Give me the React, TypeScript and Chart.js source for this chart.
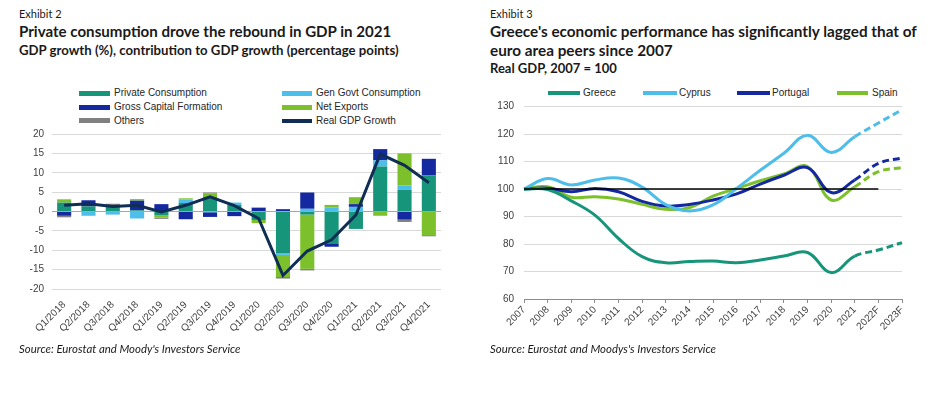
import React, { useEffect, useRef } from "react";
import { Chart, registerables } from "chart.js";

Chart.register(...registerables);

// ---------- Exhibit 2 data ----------
const quarters = [
  "Q1/2018", "Q2/2018", "Q3/2018", "Q4/2018",
  "Q1/2019", "Q2/2019", "Q3/2019", "Q4/2019",
  "Q1/2020", "Q2/2020", "Q3/2020", "Q4/2020",
  "Q1/2021", "Q2/2021", "Q3/2021", "Q4/2021",
];
const privateConsumption = [2.3, 1.3, 1.5, 0.3, -1.0, 2.2, 3.7, 1.7, -2.2, -10.8, -0.8, -8.2, -4.5, 11.6, 5.6, 9.3];
const genGovtConsumption = [0, -1.1, -0.8, -1.8, 0, 0.9, -0.2, 0.6, 0, -0.4, 0.7, 1.1, 1.2, 1.6, 1.1, 0];
const grossCapitalFormation = [-1.1, 1.6, 0, 2.5, 1.9, -2.0, -1.2, -1.2, 1.0, 0.6, 4.2, -0.9, 0.7, 2.9, -2.1, 4.3];
const netExports = [0.85, 0, 0, 0.4, -0.6, 0.3, 0.9, 0, -0.8, -5.7, -14.0, 0.6, 1.8, -1.1, 8.3, -6.1];
const others = [-0.4, 0, 0.5, 0, -0.3, 0, 0.3, 0, 0, -0.4, -0.4, 0, 0, 0, -0.6, -0.3];
const realGdpGrowth = [1.6, 2.0, 1.3, 1.6, -0.1, 1.6, 3.8, 1.5, -1.8, -16.5, -10.2, -7.3, -0.9, 14.8, 11.9, 7.4];
const leftTicks = [-20, -15, -10, -5, 0, 5, 10, 15, 20];

// ---------- Exhibit 3 data ----------
const years = [
  "2007", "2008", "2009", "2010", "2011", "2012", "2013", "2014", "2015",
  "2016", "2017", "2018", "2019", "2020", "2021", "2022F", "2023F",
];
const greece = [100, 99.8, 95.7, 90.5, 82.0, 75.4, 73.2, 73.6, 73.8, 73.2, 74.2, 75.6, 76.9, 69.6, 75.6, 77.8, 80.5];
const cyprus = [100, 103.8, 101.5, 103.3, 104.0, 100.7, 94.3, 92.0, 94.2, 100.2, 106.8, 113.0, 119.5, 113.3, 119.0, 124.0, 128.8];
const portugal = [100, 100.3, 99.0, 100.2, 99.0, 95.5, 93.8, 94.4, 96.0, 98.2, 101.8, 105.0, 107.8, 98.7, 103.3, 109.3, 111.3];
const spain = [100, 100.8, 97.0, 97.2, 96.4, 94.4, 92.6, 93.2, 97.4, 100.2, 103.0, 105.5, 108.2, 96.0, 100.8, 106.3, 107.8];
const baseline = [100, 100, 100, 100, 100, 100, 100, 100, 100, 100, 100, 100, 100, 100, 100, 100, null];
const firstForecastSegment = 14; // segments from 2021 onward are dashed

const C = {
  teal: "#16957a",
  lightBlue: "#4dbde9",
  darkBlue: "#1428a0",
  green: "#7cc12b",
  grey: "#808080",
  navy: "#0f2d55",
};

const TEXT = "#262626";
const TICK = "#404040";
const GRID = "#d9d9d9";
const CHART_FONT = "'Liberation Sans', Arial, sans-serif";
const TITLE_FONT = "Lato, 'Open Sans', sans-serif";

function Swatch({ x, y, w, h, color }: { x: number; y: number; w: number; h: number; color: string }) {
  return <div style={{ position: "absolute", left: x, top: y - h / 2, width: w, height: h, background: color }} />;
}

function Label({ x, y, text, size = 10 }: { x: number; y: number; text: string; size?: number }) {
  return (
    <div
      style={{
        position: "absolute",
        left: x,
        top: y - 7,
        height: 14,
        lineHeight: "14px",
        fontSize: size,
        fontFamily: CHART_FONT,
        color: TEXT,
        whiteSpace: "nowrap",
      }}
    >
      {text}
    </div>
  );
}

function TextLine({ x, y, text, size, weight = 400, italic = false }: { x: number; y: number; text: string; size: number; weight?: number; italic?: boolean }) {
  const lh = Math.round(size * 1.3);
  return (
    <div
      style={{
        position: "absolute",
        left: x,
        top: y - lh / 2,
        height: lh,
        lineHeight: lh + "px",
        fontSize: size,
        fontWeight: weight,
        fontStyle: italic ? "italic" : "normal",
        fontFamily: TITLE_FONT,
        color: "#1a1a1a",
        whiteSpace: "nowrap",
      }}
    >
      {text}
    </div>
  );
}

export default function App() {
  const leftRef = useRef<HTMLCanvasElement>(null);
  const rightRef = useRef<HTMLCanvasElement>(null);

  useEffect(() => {
    Chart.defaults.font.family = CHART_FONT;
    Chart.defaults.font.size = 10;
    Chart.defaults.color = TICK;

    const barCommon = { type: "bar" as const, stack: "contrib", order: 1, borderWidth: 0, barPercentage: 0.58, categoryPercentage: 1 };

    const left = new Chart(leftRef.current!, {
      type: "bar",
      data: {
        labels: quarters,
        datasets: [
          { ...barCommon, label: "Private Consumption", data: privateConsumption, backgroundColor: C.teal },
          { ...barCommon, label: "Gen Govt Consumption", data: genGovtConsumption, backgroundColor: C.lightBlue },
          { ...barCommon, label: "Gross Capital Formation", data: grossCapitalFormation, backgroundColor: C.darkBlue },
          { ...barCommon, label: "Net Exports", data: netExports, backgroundColor: C.green },
          { ...barCommon, label: "Others", data: others, backgroundColor: C.grey },
          {
            type: "line",
            label: "Real GDP Growth",
            data: realGdpGrowth,
            stack: "gdp",
            order: 0,
            borderColor: C.navy,
            borderWidth: 3,
            pointRadius: 0,
            tension: 0,
            fill: false,
          } as any,
        ],
      },
      options: {
        responsive: false,
        animation: false,
        layout: { padding: { top: 11, right: 19, left: 0, bottom: 0 } },
        plugins: { legend: { display: false }, tooltip: { enabled: false } },
        scales: {
          x: {
            stacked: true,
            grid: { display: false },
            border: { display: false },
            ticks: { autoSkip: false, maxRotation: 45, minRotation: 45, padding: 2, color: TICK },
            afterFit: (s: any) => { s.height = 61; },
          },
          y: {
            stacked: true,
            min: leftTicks[0],
            max: leftTicks[leftTicks.length - 1],
            grid: {
              drawTicks: false,
              color: (ctx: any) => (ctx.tick && ctx.tick.value === 0 ? "#a6a6a6" : GRID),
            },
            border: { display: false },
            ticks: { stepSize: 5, padding: 8, color: TICK },
            afterFit: (s: any) => { s.width = 52; },
          },
        },
      },
    });

    const dashed = (ctx: any) => (ctx.p0DataIndex >= firstForecastSegment ? [7, 4] : undefined);
    const lineCommon = { borderWidth: 3, pointRadius: 0, tension: 0.4, fill: false, order: 1, segment: { borderDash: dashed } };

    const right = new Chart(rightRef.current!, {
      type: "line",
      data: {
        labels: years,
        datasets: [
          { ...lineCommon, label: "Greece", data: greece, borderColor: C.teal },
          { ...lineCommon, label: "Cyprus", data: cyprus, borderColor: C.lightBlue },
          { ...lineCommon, label: "Portugal", data: portugal, borderColor: C.darkBlue },
          { ...lineCommon, label: "Spain", data: spain, borderColor: C.green },
          {
            label: "2007 = 100",
            data: baseline,
            borderColor: "#000000",
            borderWidth: 1.5,
            pointRadius: 0,
            tension: 0,
            fill: false,
            order: 0,
          } as any,
        ],
      },
      options: {
        responsive: false,
        animation: false,
        layout: { padding: { top: 26.5, right: 28, left: 0, bottom: 0 } },
        plugins: { legend: { display: false }, tooltip: { enabled: false } },
        scales: {
          x: {
            grid: { drawOnChartArea: false, drawTicks: true, tickLength: 4, color: "#8c8c8c" },
            border: { display: true, color: "#8c8c8c" },
            ticks: { autoSkip: false, maxRotation: 45, minRotation: 45, padding: 1, color: TICK },
            afterFit: (s: any) => { s.height = 51; },
          },
          y: {
            min: 60,
            max: 130,
            grid: { drawTicks: false, color: GRID },
            border: { display: false },
            ticks: { stepSize: 10, padding: 10, color: TICK },
            afterFit: (s: any) => { s.width = 54; },
          },
        },
      },
    });

    return () => {
      left.destroy();
      right.destroy();
    };
  }, []);

  return (
    <div
      style={{
        position: "absolute",
        left: 0,
        top: 0,
        width: 930,
        height: 398,
        background: "#ffffff",
        overflow: "hidden",
      }}
    >
      {/* Exhibit 2 header */}
      <TextLine x={19} y={14} text="Exhibit 2" size={11} />
      <TextLine x={19} y={31} text="Private consumption drove the rebound in GDP in 2021" size={15.1} weight={700} />
      <TextLine x={19} y={50} text="GDP growth (%), contribution to GDP growth (percentage points)" size={13.2} weight={700} />

      {/* Exhibit 2 legend */}
      <Swatch x={79} y={93} w={31} h={5} color={C.teal} />
      <Label x={114} y={93} text="Private Consumption" />
      <Swatch x={79} y={107} w={31} h={5} color={C.darkBlue} />
      <Label x={114} y={107} text="Gross Capital Formation" />
      <Swatch x={79} y={120.5} w={31} h={5} color={C.grey} />
      <Label x={114} y={120.5} text="Others" />
      <Swatch x={282} y={93} w={30} h={5} color={C.lightBlue} />
      <Label x={316} y={93} text="Gen Govt Consumption" />
      <Swatch x={282} y={107} w={30} h={5} color={C.green} />
      <Label x={316} y={107} text="Net Exports" />
      <Swatch x={282} y={120.5} w={30} h={4} color={C.navy} />
      <Label x={316} y={120.5} text="Real GDP Growth" />

      <canvas
        ref={leftRef}
        width={460}
        height={230}
        style={{ position: "absolute", left: 0, top: 120, width: 460, height: 230 }}
      />

      <TextLine x={19} y={348} text="Source: Eurostat and Moody's Investors Service" size={11.4} italic />

      {/* Exhibit 3 header */}
      <TextLine x={490} y={14} text="Exhibit 3" size={11} />
      <TextLine x={490} y={31} text="Greece's economic performance has significantly lagged that of" size={15.3} weight={700} />
      <TextLine x={490} y={50} text="euro area peers since 2007" size={15.3} weight={700} />
      <TextLine x={490} y={68} text="Real GDP, 2007 = 100" size={13} weight={700} />

      {/* Exhibit 3 legend */}
      <Swatch x={548} y={93} w={32} h={4} color={C.teal} />
      <Label x={583} y={93} text="Greece" />
      <Swatch x={643} y={93} w={34} h={4} color={C.lightBlue} />
      <Label x={679} y={93} text="Cyprus" />
      <Swatch x={737} y={93} w={33} h={4} color={C.darkBlue} />
      <Label x={772} y={93} text="Portugal" />
      <Swatch x={837} y={93} w={31} h={4} color={C.green} />
      <Label x={872} y={93} text="Spain" />

      <canvas
        ref={rightRef}
        width={460}
        height={270}
        style={{ position: "absolute", left: 470, top: 80, width: 460, height: 270 }}
      />

      <TextLine x={490} y={348} text="Source: Eurostat and Moodys's Investors Service" size={11.4} italic />
    </div>
  );
}
